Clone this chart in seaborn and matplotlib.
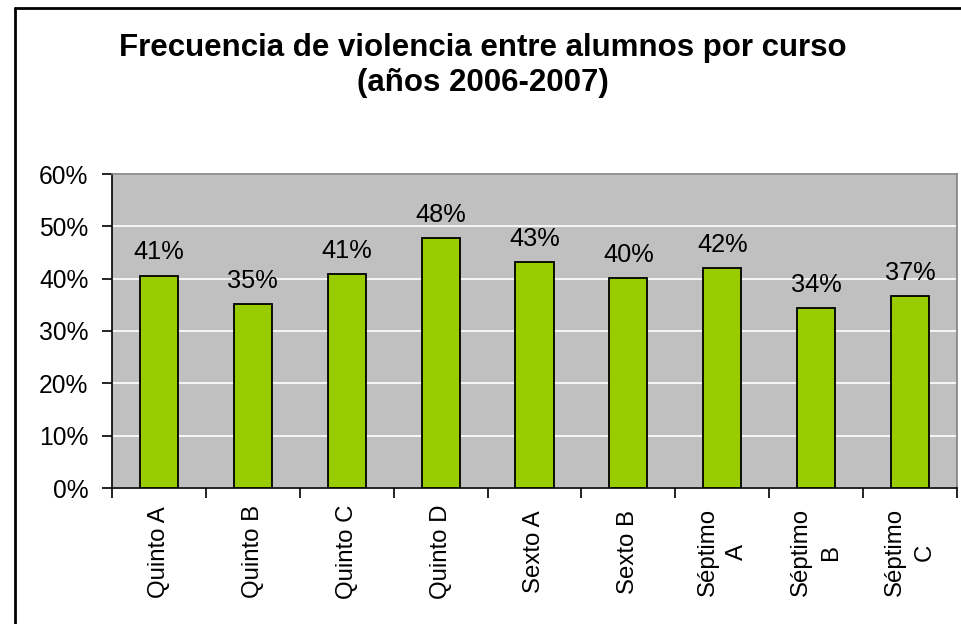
import matplotlib
matplotlib.use("Agg")
import matplotlib.pyplot as plt
import seaborn as sns
import pandas as pd
import numpy as np
from matplotlib.ticker import FixedLocator, PercentFormatter

categories = ["Quinto A", "Quinto B", "Quinto C", "Quinto D", "Sexto A",
              "Sexto B", "Séptimo\nA", "Séptimo\nB", "Séptimo\nC"]
values = [0.406, 0.352, 0.408, 0.477, 0.431, 0.401, 0.420, 0.344, 0.367]
yticks = [0.0, 0.1, 0.2, 0.3, 0.4, 0.5, 0.6]
title = "Frecuencia de violencia entre alumnos por curso\n(años 2006-2007)"

sns.set_style("white")
plt.rcParams['font.family'] = ['Liberation Sans', 'DejaVu Sans']
plt.rcParams['text.color'] = 'black'
plt.rcParams['xtick.color'] = 'black'
plt.rcParams['ytick.color'] = 'black'
plt.rcParams['xtick.labelcolor'] = 'black'
plt.rcParams['ytick.labelcolor'] = 'black'

fig = plt.figure(figsize=(9.61, 6.24), dpi=100)
ax = fig.add_axes([112/961, 1-488/624, (957-112)/961, (488-174)/624])

df = pd.DataFrame({"curso": categories, "valor": values})
sns.barplot(data=df, x="curso", y="valor", ax=ax, color="#99CC00",
            saturation=1, width=0.405, edgecolor="black", linewidth=1.3, zorder=3)

ax.set_facecolor("#C0C0C0")
ax.set_xlim(-0.5, len(categories) - 0.5)
ax.set_ylim(0, 0.6)
ax.yaxis.set_major_locator(FixedLocator(yticks))
ax.yaxis.set_major_formatter(PercentFormatter(1.0, decimals=0))
ax.grid(axis='y', color='white', linewidth=1.2, zorder=0)
ax.set_axisbelow(True)
ax.set_xlabel("")
ax.set_ylabel("")

# ticks at category boundaries, labels at centers
ax.set_xticks(np.arange(-0.5, len(categories), 1.0))
ax.set_xticklabels([])
ax.set_xticks(np.arange(len(categories)), minor=True)
ax.set_xticklabels(categories, minor=True, rotation=90, va='center',
                   ha='center', fontsize=17.3, multialignment='center',
                   color='black', linespacing=1.45)
ax.tick_params(axis='x', which='major', direction='out', length=7, width=1.2,
               color='black', bottom=True)
ax.tick_params(axis='x', which='minor', length=0, pad=46)
ax.tick_params(axis='y', direction='out', length=7, width=1.2, color='black',
               left=True, pad=10, labelsize=17.7, labelcolor='black')

for side in ['left', 'bottom']:
    ax.spines[side].set_color('black')
    ax.spines[side].set_linewidth(1.2)
for side in ['top', 'right']:
    ax.spines[side].set_color('#808080')
    ax.spines[side].set_linewidth(1.2)

for c in ax.containers:
    ax.bar_label(c, labels=[f"{v*100:.0f}%" for v in values], padding=8,
                 fontsize=18.3, color='black')

fig.text(0.502, 0.895, title, ha='center', va='center', fontsize=22.5,
         fontweight='bold', linespacing=1.25, color='black')

# outer frame (left and top)
fig.add_artist(plt.Line2D([15/961, 15/961], [0, 1-8/624], color='black',
                          linewidth=2, transform=fig.transFigure))
fig.add_artist(plt.Line2D([15/961, 1], [1-8/624, 1-8/624], color='black',
                          linewidth=2, transform=fig.transFigure))

fig.savefig("out.png", dpi=100)
